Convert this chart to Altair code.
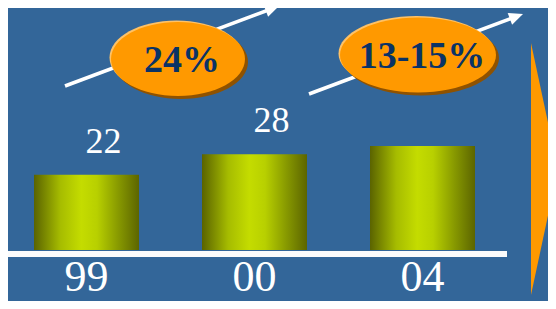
import altair as alt
import pandas as pd

# ---- data ----
years = ["99", "00", "04"]
values = [22, 28, 30.4]
value_labels = ["22", "28", ""]
growth_labels = ["24%", "13-15%"]

BG = "#336699"
ORANGE = "#ff9900"
NAVY = "#0a3366"
FONT = "Liberation Serif"

df = pd.DataFrame({"year": years, "value": values, "label": value_labels})
one = alt.Data(values=[{}])

xscale = alt.Scale(domain=years, range=[26, 467], paddingInner=0.375, paddingOuter=0)
yscale = alt.Scale(domain=[0, 70.8], nice=False, zero=True)

grad = alt.Gradient(
    gradient="linear", x1=0, x2=1, y1=0, y2=0,
    stops=[
        alt.GradientStop(offset=0.0, color="#5a6300"),
        alt.GradientStop(offset=0.25, color="#a6bc00"),
        alt.GradientStop(offset=0.45, color="#c4dc00"),
        alt.GradientStop(offset=0.6, color="#b8d000"),
        alt.GradientStop(offset=0.8, color="#889a00"),
        alt.GradientStop(offset=1.0, color="#5c6500"),
    ],
)

bars = alt.Chart(df).mark_bar(color=grad).encode(
    x=alt.X("year:N", scale=xscale, sort=None, axis=None),
    y=alt.Y("value:Q", scale=yscale, axis=None),
)

vlabels = alt.Chart(df).mark_text(
    font=FONT, fontSize=36, color="white", baseline="alphabetic", dx=17, dy=-22
).encode(
    x=alt.X("year:N", scale=xscale, sort=None, axis=None),
    y=alt.Y("value:Q", scale=yscale, axis=None),
    text="label:N",
)

cats = alt.Chart(df).mark_text(
    font=FONT, fontSize=44, color="white", baseline="alphabetic"
).encode(
    x=alt.X("year:N", scale=xscale, sort=None, axis=None),
    y=alt.value(283),
    text="year:N",
)

baseline = alt.Chart(one).mark_rule(color="#fbfbfb", strokeWidth=6).encode(
    x=alt.value(-4), x2=alt.value(499), y=alt.value(246)
)

def arrow(x0, y0, x1, y1):
    line = alt.Chart(one).mark_rule(color="white", strokeWidth=3.5).encode(
        x=alt.value(x0), y=alt.value(y0), x2=alt.value(x1 - 8), y2=alt.value(y1 + 3)
    )
    head = alt.Chart(one).mark_point(
        shape="M0,0 L-2,-0.9 L-2,0.9 Z", filled=True, color="white", opacity=1,
        size=196, angle=339.5, strokeWidth=0
    ).encode(x=alt.value(x1), y=alt.value(y1))
    return line + head

def ellipse_path(k):
    c = 0.5523
    return (f"M-1,0 C-1,{-c*k:.4f} {-c:.4f},{-k:.4f} 0,{-k:.4f} "
            f"C{c:.4f},{-k:.4f} 1,{-c*k:.4f} 1,0 "
            f"C1,{c*k:.4f} {c:.4f},{k:.4f} 0,{k:.4f} "
            f"C{-c:.4f},{k:.4f} -1,{c*k:.4f} -1,0 Z")

def ellipse(cx, cy, w, h, text):
    path = ellipse_path(h / w)
    size = w * w
    layers = []
    for dx, dy, col in [(3, 3, "#8f5200"), (-1.5, -1.5, "#ffc266"), (0, 0, ORANGE)]:
        layers.append(
            alt.Chart(one).mark_point(
                shape=path, filled=True, color=col, opacity=1, size=size, strokeWidth=0
            ).encode(x=alt.value(cx + dx), y=alt.value(cy + dy))
        )
    layers.append(
        alt.Chart(pd.DataFrame({"t": [text]})).mark_text(
            font=FONT, fontSize=38, fontWeight="bold", color=NAVY, baseline="middle"
        ).encode(x=alt.value(cx + 4), y=alt.value(cy + 2), text="t:N")
    )
    return alt.layer(*layers)

triangle = alt.Chart(one).mark_point(
    shape="M0,-1 L0.214,0 L0,1 Z", filled=True, color=ORANGE, opacity=1,
    size=252 * 252, strokeWidth=0
).encode(x=alt.value(523), y=alt.value(161))

chart = alt.layer(
    bars,
    baseline,
    vlabels,
    cats,
    arrow(57, 78, 271, -2),
    arrow(301, 86, 515, 6),
    ellipse(170, 51, 134, 74, growth_labels[0]),
    ellipse(410, 47, 156, 75, growth_labels[1]),
    triangle,
).properties(
    width=540, height=242,
    autosize=alt.AutoSizeParams(type="none"),
    padding={"left": 0, "top": 0, "right": 0, "bottom": 51},
    background=BG,
).configure_view(stroke=None)

chart.save("out.html", embed_options={"renderer": "svg", "actions": False})
